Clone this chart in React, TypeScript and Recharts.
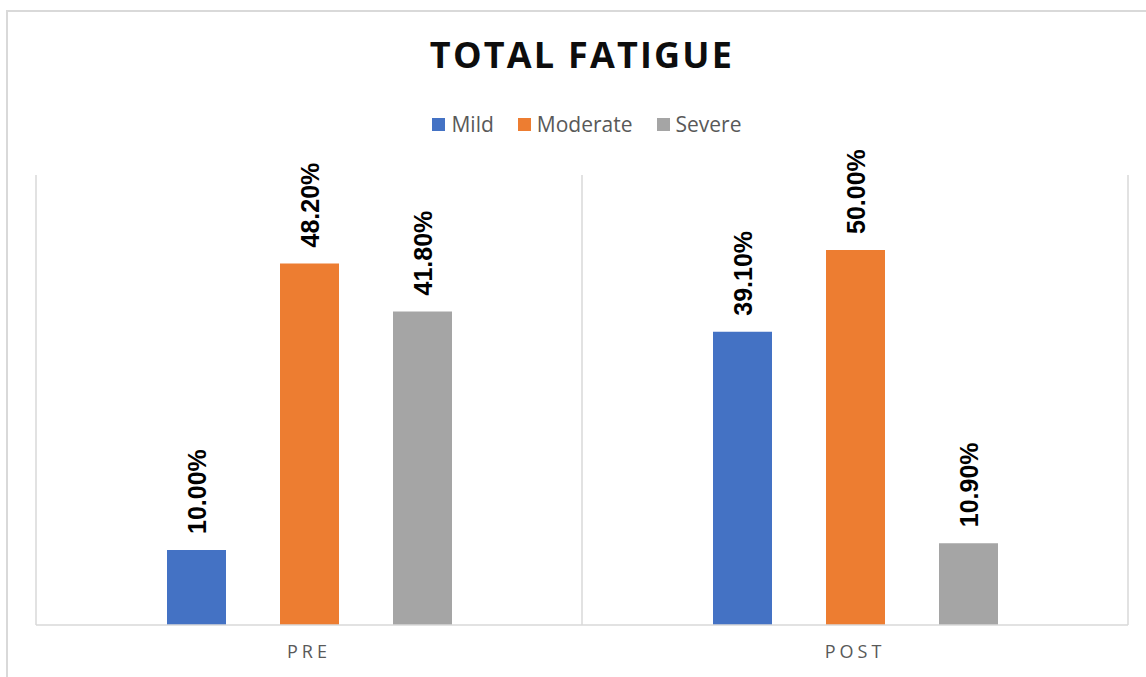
import { BarChart, Bar, XAxis, YAxis, CartesianGrid, LabelList } from "recharts"

const categories = ["PRE", "POST"]
const mild = [10.0, 39.1]
const moderate = [48.2, 50.0]
const severe = [41.8, 10.9]

const seriesNames = ["Mild", "Moderate", "Severe"]
const seriesColors = ["#4472C4", "#ED7D31", "#A5A5A5"]

const data = categories.map((c, i) => ({
  name: c,
  Mild: mild[i],
  Moderate: moderate[i],
  Severe: severe[i],
}))

const labelFont = "'Liberation Sans', Arial, sans-serif"

function RotatedLabel(props: any) {
  const { x, y, width, value } = props
  const cx = Number(x) + Number(width) / 2
  const ty = Number(y) - 16
  return (
    <text
      x={cx}
      y={ty}
      dy="0.36em"
      transform={`rotate(-90, ${cx}, ${ty})`}
      textAnchor="start"
      fontFamily={labelFont}
      fontWeight="bold"
      fontSize={25}
      fill="#000"
    >
      {`${Number(value).toFixed(2)}%`}
    </text>
  )
}

// legend drawn as plain html so it does not eat plot height
function LegendRow() {
  return (
    <div
      style={{
        position: "absolute",
        top: 110,
        left: 4,
        width: 1166,
        display: "flex",
        justifyContent: "center",
        gap: 24,
        fontFamily: "'Open Sans', sans-serif",
        fontSize: 21,
        color: "#595959",
      }}
    >
      {seriesNames.map((n, i) => (
        <div key={n} style={{ display: "flex", alignItems: "center" }}>
          <span style={{ width: 13, height: 13, background: seriesColors[i], marginRight: 6, display: "inline-block" }} />
          <span>{n}</span>
        </div>
      ))}
    </div>
  )
}

export default function App() {
  return (
    <div style={{ position: "absolute", left: 0, top: 0, width: 1146, height: 677, background: "#fff", overflow: "hidden" }}>
      <div
        style={{
          position: "absolute",
          left: 6,
          top: 10,
          width: 1160,
          height: 700,
          border: "2px solid #d9d9d9",
          boxSizing: "border-box",
        }}
      />
      <div
        style={{
          position: "absolute",
          left: 0,
          top: 30,
          width: 1164,
          textAlign: "center",
          fontFamily: "'Open Sans', sans-serif",
          fontWeight: 700,
          fontSize: 36,
          letterSpacing: 2.2,
          color: "#0d0d0d",
        }}
      >
        TOTAL FATIGUE
      </div>
      <LegendRow />
      <div style={{ position: "absolute", left: 0, top: 0 }}>
        <BarChart
          width={1146}
          height={677}
          data={data}
          margin={{ top: 175, left: 36, right: 18, bottom: 12 }}
          barSize={59}
          barGap={54}
        >
          <CartesianGrid
            horizontal={false}
            stroke="#d9d9d9"
            strokeWidth={1.5}
            verticalCoordinatesGenerator={({ offset }: any) => [
              offset.left,
              offset.left + offset.width / 2,
              offset.left + offset.width,
            ]}
          />
          <XAxis
            dataKey="name"
            height={40}
            axisLine={{ stroke: "#d9d9d9", strokeWidth: 1.5 }}
            tickLine={false}
            tick={{ fill: "#595959", fontSize: 18, fontFamily: "'Open Sans', sans-serif", letterSpacing: 4, dy: 12 }}
          />
          <YAxis hide domain={[0, 60]} />
          {seriesNames.map((n, i) => (
            <Bar key={n} dataKey={n} fill={seriesColors[i]} isAnimationActive={false}>
              <LabelList dataKey={n} content={<RotatedLabel />} />
            </Bar>
          ))}
        </BarChart>
      </div>
    </div>
  )
}
